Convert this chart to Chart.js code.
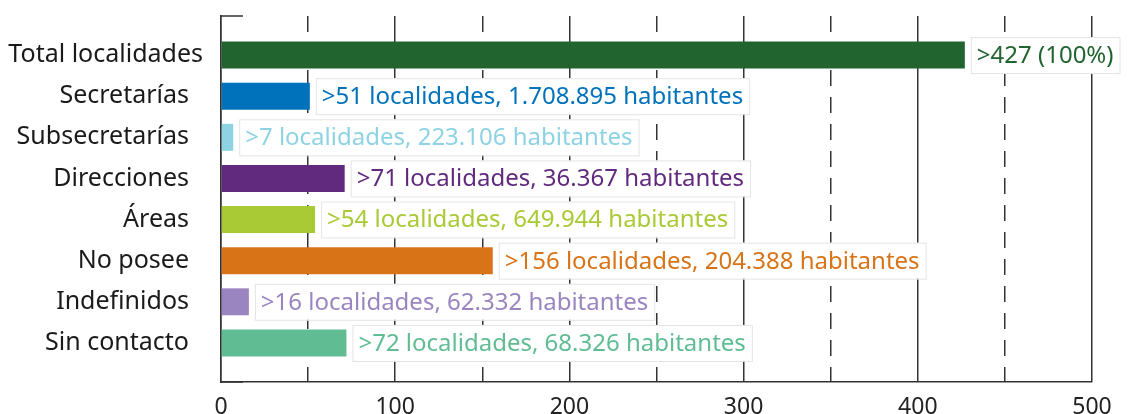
<!DOCTYPE html>
<html>
<head>
<meta charset="utf-8">
<script src="https://cdn.jsdelivr.net/npm/chart.js@4/dist/chart.umd.min.js"></script>
<style>
  body { margin: 0; background: #fff; }
</style>
</head>
<body>
<canvas id="graph" width="1129" height="414"></canvas>
<script>
// categorias, valores y textos de las etiquetas
var categories = ["Total localidades", "Secretarías", "Subsecretarías", "Direcciones", "Áreas", "No posee", "Indefinidos", "Sin contacto"];
var values = [427, 51, 7, 71, 54, 156, 16, 72];
var valueLabels = [
    ">427 (100%)",
    ">51 localidades, 1.708.895 habitantes",
    ">7 localidades, 223.106 habitantes",
    ">71 localidades, 36.367 habitantes",
    ">54 localidades, 649.944 habitantes",
    ">156 localidades, 204.388 habitantes",
    ">16 localidades, 62.332 habitantes",
    ">72 localidades, 68.326 habitantes"
];
var barColors = ["#21642f", "#0072bb", "#8dd3e3", "#612a7f", "#a9ca35", "#d87317", "#9a85c1", "#5fbc93"];
var xTicks = [0, 100, 200, 300, 400, 500];

var FONT = "'Noto Sans', 'Open Sans', sans-serif";
var axisColor = "#333";

// dibuja nombres de categoria, marcas del eje y cajas con texto
var labelsPlugin = {
    id: "labels",
    afterDatasetsDraw: function (chart) {
        var ctx = chart.ctx;
        var area = chart.chartArea;
        var yScale = chart.scales.y;
        var meta = chart.getDatasetMeta(0);

        ctx.save();
        // marcas cortas arriba y abajo del eje y
        ctx.strokeStyle = axisColor;
        ctx.lineWidth = 1.5;
        ctx.beginPath();
        ctx.moveTo(area.left, area.top);
        ctx.lineTo(area.left + 22, area.top);
        ctx.moveTo(area.left, area.bottom);
        ctx.lineTo(area.left + 22, area.bottom);
        ctx.stroke();

        // nombres de categorias
        ctx.font = "25px " + FONT;
        ctx.fillStyle = "#1a1a1a";
        ctx.textAlign = "right";
        ctx.textBaseline = "middle";
        for (var i = 0; i < categories.length; i++) {
            var off = i === 0 ? 18 : 32; // el total va un poco mas a la derecha
            ctx.fillText(categories[i], area.left - off, yScale.getPixelForValue(i));
        }

        // cajas con los valores
        ctx.font = "24px " + FONT;
        ctx.textAlign = "left";
        meta.data.forEach(function (bar, i) {
            var w = ctx.measureText(valueLabels[i]).width;
            var x0 = bar.x + 6;
            var h = 36;
            var y0 = bar.y - h / 2;
            ctx.fillStyle = "#fff";
            ctx.fillRect(x0, y0, w + 12, h);
            ctx.strokeStyle = "#e4e4e4";
            ctx.lineWidth = 1;
            ctx.strokeRect(x0 + 0.5, y0 + 0.5, w + 12, h);
            ctx.fillStyle = barColors[i];
            ctx.fillText(valueLabels[i], x0 + 6, bar.y + 1);
        });
        ctx.restore();
    }
};

new Chart(document.getElementById("graph"), {
    type: "bar",
    data: {
        datasets: [{
            data: values.map(function (v, i) { return { x: v, y: i }; }),
            backgroundColor: barColors,
            borderWidth: 0,
            barPercentage: 0.69,
            categoryPercentage: 1
        }]
    },
    options: {
        indexAxis: "y",
        responsive: false,
        animation: false,
        layout: { padding: { top: 16, right: 37, left: 0, bottom: 0 } },
        plugins: { legend: { display: false }, tooltip: { enabled: false } },
        scales: {
            x: {
                type: "linear",
                position: "bottom",
                min: 0,
                max: 500,
                afterBuildTicks: function (scale) {
                    scale.ticks = xTicks.map(function (v) { return { value: v }; });
                },
                afterFit: function (scale) { scale.height = 32; },
                ticks: { color: "#222", padding: 12, font: { family: FONT, size: 23 } },
                grid: { color: axisColor, lineWidth: 1.5, drawTicks: false },
                border: { color: axisColor, width: 1.5 }
            },
            x2: {
                type: "linear",
                position: "top",
                min: 0,
                max: 500,
                ticks: { display: false, stepSize: 50 },
                afterFit: function (scale) { scale.height = 0; },
                grid: {
                    drawTicks: false,
                    lineWidth: 1.5,
                    color: function (c) { return c.tick && c.tick.value % 100 !== 0 ? axisColor : "rgba(0,0,0,0)"; }
                },
                border: { display: false, dash: [16, 11] }
            },
            y: {
                type: "linear",
                min: -0.95,
                max: 7.95,
                reverse: true,
                offset: false,
                afterFit: function (scale) { scale.width = 221; },
                ticks: { display: false },
                grid: { display: false },
                border: { color: axisColor, width: 1.5 }
            }
        }
    },
    plugins: [labelsPlugin]
});
</script>
</body>
</html>
